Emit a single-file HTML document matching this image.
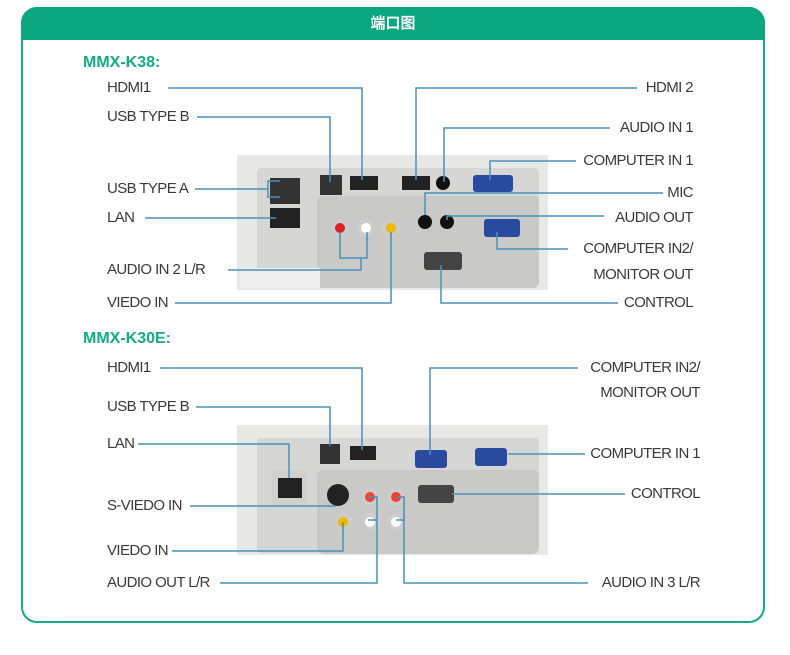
<!DOCTYPE html>
<html><head><meta charset="utf-8"><style>
body{margin:0;width:790px;height:655px;background:#fff;position:relative;overflow:hidden;font-family:"Liberation Sans","Noto Sans CJK SC",sans-serif}
.frame{position:absolute;left:21px;top:7px;width:740px;height:612px;border:2px solid #12ad85;border-radius:16px;}
.hdr{position:absolute;left:21px;top:7px;width:744px;height:33px;background:#0aa67f;border-radius:16px 16px 0 0;color:#fff;font-size:15px;font-weight:bold;text-align:center;line-height:33px}
.t{position:absolute;font-size:15px;color:#3a3a3a;white-space:nowrap;letter-spacing:-0.6px;line-height:18px}
.r{text-align:right}
.g{position:absolute;font-size:16px;font-weight:bold;color:#12ad85}
svg{position:absolute;left:0;top:0}
</style></head><body>
<div class="frame"></div>
<div class="hdr">端口图</div>
<div class="g" style="left:83px;top:54px">MMX-K38:</div>
<div class="g" style="left:83px;top:330px">MMX-K30E:</div>
<svg width="790" height="655">
<rect x="237" y="155" width="311" height="135" fill="#e8e8e6"/>
<rect x="257" y="168" width="282" height="118" fill="#d6d6d4" rx="4"/>
<rect x="317" y="196" width="222" height="92" fill="#c9c9c7" rx="6"/>
<rect x="270" y="178" width="30" height="26" fill="#333"/>
<rect x="270" y="208" width="30" height="20" fill="#222"/>
<rect x="320" y="175" width="22" height="20" fill="#333"/>
<rect x="350" y="176" width="28" height="14" fill="#222"/>
<rect x="402" y="176" width="28" height="14" fill="#222"/>
<circle cx="443" cy="183" r="7" fill="#111"/>
<rect x="473" y="175" width="40" height="17" fill="#2a4aa0" rx="3"/>
<circle cx="425" cy="222" r="7" fill="#111"/><circle cx="447" cy="222" r="7" fill="#111"/>
<rect x="484" y="219" width="36" height="18" fill="#2a4aa0" rx="3"/>
<circle cx="340" cy="228" r="9" fill="#ccc"/><circle cx="340" cy="228" r="5" fill="#d22"/>
<circle cx="366" cy="228" r="9" fill="#ccc"/><circle cx="366" cy="228" r="5" fill="#fff"/>
<circle cx="391" cy="228" r="9" fill="#ccc"/><circle cx="391" cy="228" r="5" fill="#eb0"/>
<rect x="424" y="252" width="38" height="18" fill="#444" rx="3"/>
<rect x="240" y="268" width="80" height="20" fill="#eee"/>
<rect x="237" y="425" width="311" height="130" fill="#e8e8e6"/>
<rect x="257" y="438" width="282" height="115" fill="#d6d6d4" rx="4"/>
<rect x="317" y="470" width="222" height="84" fill="#c9c9c7" rx="6"/>
<rect x="272" y="470" width="34" height="36" fill="#d0d0ce"/>
<rect x="278" y="478" width="24" height="20" fill="#222"/>
<rect x="320" y="444" width="20" height="20" fill="#333"/>
<rect x="350" y="446" width="26" height="14" fill="#222"/>
<rect x="415" y="450" width="32" height="18" fill="#2a4aa0" rx="3"/>
<rect x="475" y="448" width="32" height="18" fill="#2a4aa0" rx="3"/>
<circle cx="338" cy="495" r="11" fill="#222"/>
<circle cx="343" cy="522" r="9" fill="#ccc"/><circle cx="343" cy="522" r="5" fill="#eb0"/>
<circle cx="370" cy="497" r="9" fill="#ccc"/><circle cx="370" cy="497" r="5" fill="#e43"/>
<circle cx="396" cy="497" r="9" fill="#ccc"/><circle cx="396" cy="497" r="5" fill="#e43"/>
<circle cx="370" cy="522" r="9" fill="#ccc"/><circle cx="370" cy="522" r="5" fill="#fff"/>
<circle cx="396" cy="522" r="9" fill="#ccc"/><circle cx="396" cy="522" r="5" fill="#fff"/>
<rect x="418" y="485" width="36" height="18" fill="#444" rx="3"/>
<g fill="none" stroke="#4a8fbb" stroke-width="1.5">
<polyline points="168,88 362,88 362,180"/>
<polyline points="197,117 330,117 330,182"/>
<polyline points="195,189 268,189"/><polyline points="280,181 268,181 268,197 280,197"/>
<polyline points="145,218 276,218"/>
<polyline points="228,270 361,270 361,258"/><polyline points="340,232 340,258 367,258 367,232"/>
<polyline points="175,303 391,303 391,232"/>
<polyline points="637,88 416,88 416,180"/>
<polyline points="610,128 444,128 444,182"/>
<polyline points="576,161 490,161 490,180"/>
<polyline points="663,193 425,193 425,215"/>
<polyline points="604,216 447,216 447,220"/>
<polyline points="568,249 497,249 497,232"/>
<polyline points="618,303 441,303 441,265"/>
<polyline points="160,368 362,368 362,450"/>
<polyline points="196,407 330,407 330,446"/>
<polyline points="138,444 289,444 289,478"/>
<polyline points="190,506 336,506"/>
<polyline points="172,551 343,551 343,522"/>
<polyline points="220,583 377,583 377,497 368,497"/><polyline points="377,520 368,520"/>
<polyline points="588,583 404,583 404,497 396,497"/><polyline points="404,520 396,520"/>
<polyline points="578,368 430,368 430,455"/>
<polyline points="585,454 508,454"/>
<polyline points="625,494 452,494"/>
</g>
</svg>
<div class="t" style="left:107px;top:79px">HDMI1</div>
<div class="t" style="left:107px;top:108px">USB TYPE B</div>
<div class="t" style="left:107px;top:180px">USB TYPE A</div>
<div class="t" style="left:107px;top:209px">LAN</div>
<div class="t" style="left:107px;top:261px">AUDIO IN 2 L/R</div>
<div class="t" style="left:107px;top:294px">VIEDO IN</div>
<div class="t r" style="right:97px;top:79px">HDMI 2</div>
<div class="t r" style="right:97px;top:119px">AUDIO IN 1</div>
<div class="t r" style="right:97px;top:152px">COMPUTER IN 1</div>
<div class="t r" style="right:97px;top:184px">MIC</div>
<div class="t r" style="right:97px;top:209px">AUDIO OUT</div>
<div class="t r" style="right:97px;top:240px">COMPUTER IN2/</div>
<div class="t r" style="right:97px;top:266px">MONITOR OUT</div>
<div class="t r" style="right:97px;top:294px">CONTROL</div>
<div class="t" style="left:107px;top:359px">HDMI1</div>
<div class="t" style="left:107px;top:398px">USB TYPE B</div>
<div class="t" style="left:107px;top:435px">LAN</div>
<div class="t" style="left:107px;top:497px">S-VIEDO IN</div>
<div class="t" style="left:107px;top:542px">VIEDO IN</div>
<div class="t" style="left:107px;top:574px">AUDIO OUT L/R</div>
<div class="t r" style="right:90px;top:359px">COMPUTER IN2/</div>
<div class="t r" style="right:90px;top:384px">MONITOR OUT</div>
<div class="t r" style="right:90px;top:445px">COMPUTER IN 1</div>
<div class="t r" style="right:90px;top:485px">CONTROL</div>
<div class="t r" style="right:90px;top:574px">AUDIO IN 3 L/R</div>
</body></html>
